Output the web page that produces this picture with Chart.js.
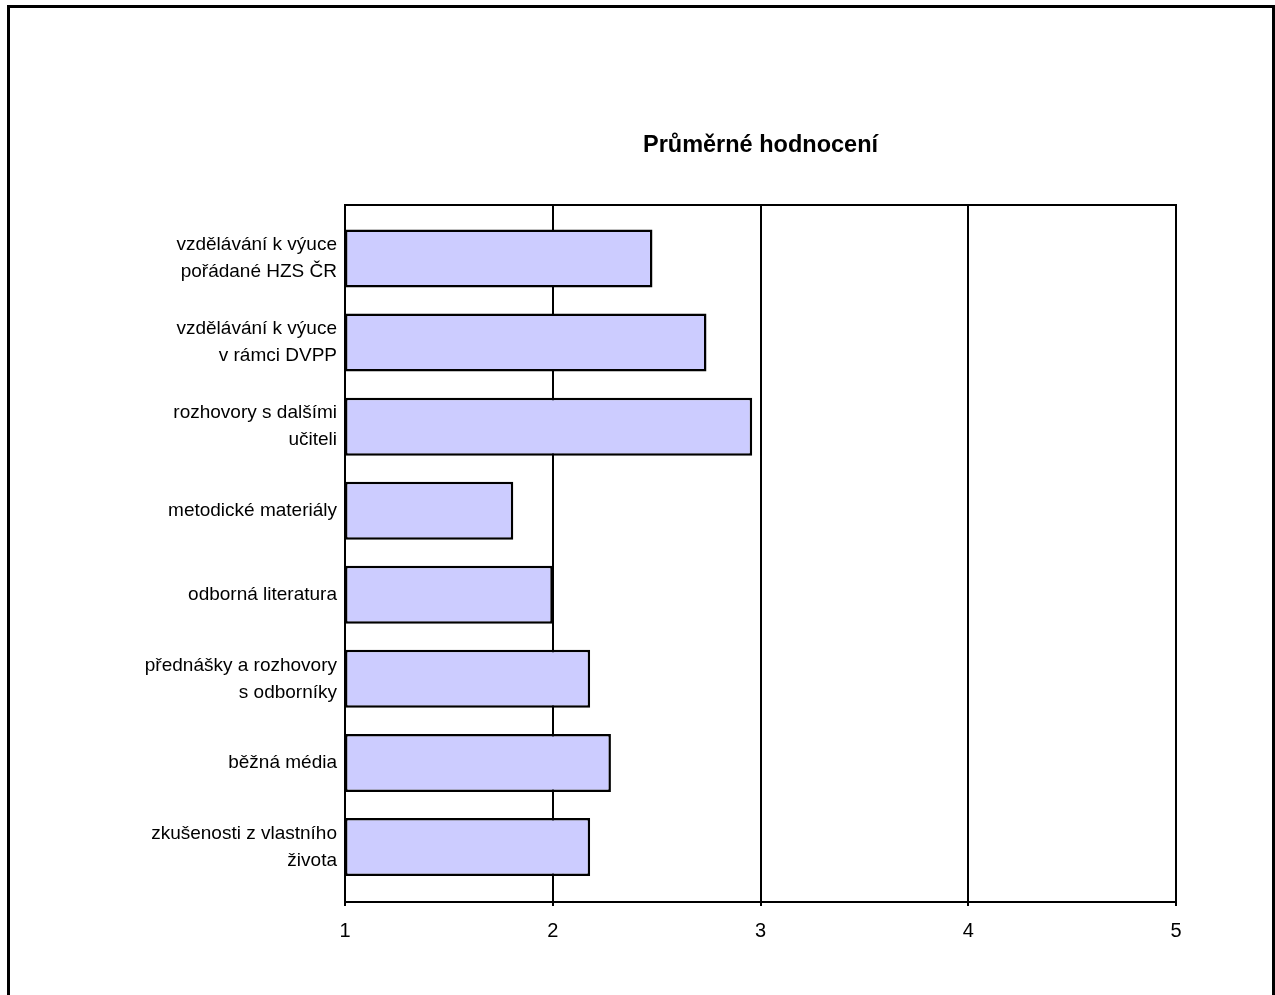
<!DOCTYPE html>
<html>
<head>
    <title>Průměrné hodnocení</title>
    <script src="https://cdn.jsdelivr.net/npm/chart.js@4/dist/chart.umd.min.js"></script>
    <style>
        body { margin: 0; background: #fff; }
        #frame { position: absolute; left: 7px; top: 5px; width: 1262px; height: 1100px; border: 3px solid #000; border-bottom: none; }
        #myChart { position: absolute; left: 0; top: 0; }
    </style>
</head>
<body>
    <div id="frame"></div>
    <canvas id="myChart" width="1275" height="995"></canvas>

    <script>
        // data
        var categories = [
            ['vzdělávání k výuce', 'pořádané HZS ČR'],
            ['vzdělávání k výuce', 'v rámci DVPP'],
            ['rozhovory s dalšími', 'učiteli'],
            'metodické materiály',
            'odborná literatura',
            ['přednášky a rozhovory', 's odborníky'],
            'běžná média',
            ['zkušenosti z vlastního', 'života']
        ];
        var values = [2.48, 2.74, 2.96, 1.81, 2.00, 2.18, 2.28, 2.18];
        var xTicks = [1, 2, 3, 4, 5];
        var chartTitle = 'Průměrné hodnocení';

        var fontFamily = 'Arial, "Liberation Sans", sans-serif';

        // frame, vertical grid lines and title, drawn with the chart's own scales
        var framePlugin = {
            id: 'framePlugin',
            beforeDatasetsDraw: function (chart) {
                var c = chart.ctx;
                var xs = chart.scales.x;
                var area = chart.chartArea;
                var top = area.top - 11.5;
                var bottom = area.bottom + 13;
                c.save();
                c.strokeStyle = '#000';
                c.lineWidth = 2;
                xTicks.forEach(function (t) {
                    var px = Math.round(xs.getPixelForValue(t));
                    c.beginPath();
                    c.moveTo(px, top);
                    c.lineTo(px, bottom + 4);
                    c.stroke();
                });
                c.beginPath();
                c.moveTo(area.left - 1, top);
                c.lineTo(area.right + 1, top);
                c.moveTo(area.left - 1, bottom);
                c.lineTo(area.right + 1, bottom);
                c.stroke();
                c.restore();
            },
            afterDraw: function (chart) {
                var c = chart.ctx;
                var area = chart.chartArea;
                c.save();
                c.fillStyle = '#000';
                c.font = 'bold 23.5px ' + fontFamily;
                c.textAlign = 'center';
                c.textBaseline = 'middle';
                c.fillText(chartTitle, (area.left + area.right) / 2, 146);
                c.restore();
            }
        };

        var ctx = document.getElementById('myChart').getContext('2d');
        var myChart = new Chart(ctx, {
            type: 'bar',
            data: {
                labels: categories,
                datasets: [{
                    data: values,
                    base: 1,
                    backgroundColor: '#CCCCFF',
                    borderColor: '#000',
                    borderWidth: 2.5,
                    borderSkipped: false,
                    barPercentage: 0.69,
                    categoryPercentage: 1.0
                }]
            },
            options: {
                indexAxis: 'y',
                responsive: false,
                animation: false,
                layout: { padding: { top: 216.5, right: 99, bottom: 0, left: 0 } },
                plugins: {
                    legend: { display: false },
                    tooltip: { enabled: false }
                },
                scales: {
                    x: {
                        min: 1,
                        max: 5,
                        afterFit: function (s) { s.height = 106; },
                        grid: { display: false, drawTicks: false },
                        border: { display: false },
                        ticks: {
                            stepSize: 1,
                            padding: 30,
                            color: '#000',
                            font: { family: fontFamily, size: 20 }
                        }
                    },
                    y: {
                        afterFit: function (s) { s.width = 345; },
                        grid: { display: false, drawTicks: false },
                        border: { display: false },
                        ticks: {
                            padding: 8,
                            color: '#000',
                            font: { family: fontFamily, size: 19, lineHeight: 1.42 }
                        }
                    }
                }
            },
            plugins: [framePlugin]
        });
    </script>
</body>
</html>
